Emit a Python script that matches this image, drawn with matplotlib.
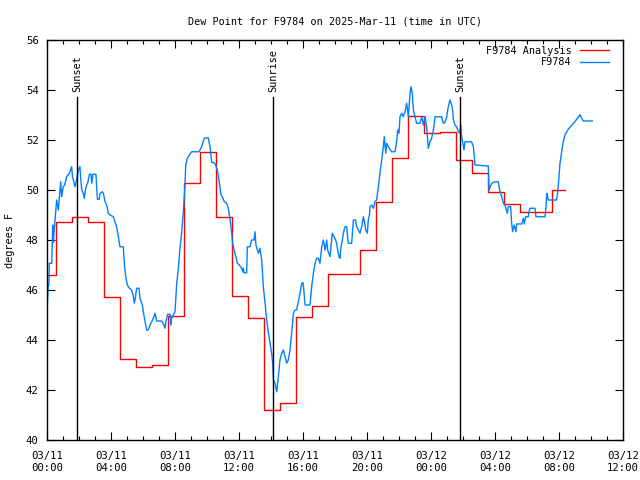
import matplotlib
matplotlib.use("Agg")
import matplotlib.pyplot as plt
from matplotlib.ticker import MultipleLocator

# Analysis (hourly, drawn as steps): change times (hours since 03/11 00:00) and values
red_t = [0, 0.55, 1.55, 2.55, 3.55, 4.55, 5.55, 6.55, 7.55, 8.55, 9.55, 10.55, 11.55,
         12.55, 13.55, 14.55, 15.55, 16.55, 17.55, 19.55, 20.55, 21.55, 22.55, 23.55,
         24.55, 25.55, 26.55, 27.55, 28.55, 29.55, 31.55, 32.35]
red_v = [46.6, 48.7, 48.9, 48.7, 45.7, 43.25, 42.9, 43.0, 44.95, 50.3, 51.5, 48.9, 45.76,
         44.88, 41.2, 41.47, 44.9, 45.35, 46.64, 47.6, 49.53, 51.3, 52.96, 52.27,
         52.3, 51.19, 50.67, 49.9, 49.44, 49.13, 50.0, 50.0]

# Observations
blue_t = [0.02, 0.08, 0.12, 0.146, 0.3, 0.354, 0.4, 0.45, 0.5, 0.604, 0.708, 0.854, 0.917,
          1.02, 1.1, 1.23, 1.40, 1.54, 1.6, 1.65, 1.75, 1.85, 1.96, 2.06, 2.1, 2.17, 2.25,
          2.33, 2.4, 2.48, 2.55, 2.65, 2.75, 2.8, 2.87, 3.06, 3.1, 3.15, 3.27, 3.31, 3.46,
          3.52, 3.63, 3.73, 3.83, 3.94, 4.15, 4.25, 4.35, 4.46, 4.56, 4.77, 4.83, 4.92,
          5.02, 5.15, 5.29, 5.40, 5.46, 5.52, 5.60, 5.75, 5.81, 5.96, 6.02, 6.13, 6.23,
          6.33, 6.44, 6.54, 6.65, 6.75, 6.85, 7.17, 7.31, 7.375, 7.44, 7.54, 7.69, 7.73,
          7.79, 8.0, 8.1, 8.21, 8.31, 8.42, 8.52, 8.625, 8.67, 8.77, 8.9, 9.04, 9.5, 9.67,
          9.83, 10.08, 10.19, 10.29, 10.44, 10.54, 10.67, 10.75, 10.875, 10.96, 11.08,
          11.23, 11.33, 11.45, 11.54, 11.6, 11.75, 11.9, 12.02, 12.17, 12.23, 12.27, 12.31,
          12.48, 12.52, 12.69, 12.79, 12.94, 13.0, 13.06, 13.21, 13.31, 13.42, 13.52,
          13.63, 13.73, 13.84, 13.94, 14.04, 14.11, 14.15, 14.25, 14.36, 14.46, 14.56,
          14.67, 14.77, 14.88, 14.98, 15.08, 15.19, 15.29, 15.4, 15.5, 15.6, 15.71, 15.81,
          15.92, 16.0, 16.06, 16.13, 16.44, 16.54, 16.65, 16.75, 16.86, 16.96, 17.06,
          17.17, 17.27, 17.38, 17.48, 17.54, 17.69, 17.75, 17.83, 17.94, 18.04, 18.1,
          18.17, 18.25, 18.31, 18.375, 18.46, 18.52, 18.625, 18.73, 18.83, 19.04, 19.15,
          19.29, 19.35, 19.46, 19.56, 19.67, 19.77, 19.85, 19.92, 20.02, 20.08, 20.15,
          20.19, 20.29, 20.4, 20.5, 20.6, 20.71, 20.81, 20.92, 21.02, 21.08, 21.17, 21.23,
          21.33, 21.54, 21.75, 21.85, 21.92, 22.0, 22.06, 22.17, 22.27, 22.375, 22.48,
          22.58, 22.69, 22.75, 22.83, 22.9, 23.0, 23.1, 23.31, 23.42, 23.52, 23.625,
          23.73, 23.83, 23.94, 24.04, 24.15, 24.25, 24.67, 24.77, 24.87, 24.98, 25.08,
          25.19, 25.29, 25.35, 25.4, 25.5, 25.6, 25.71, 25.81, 25.85, 25.9, 26.02, 26.06,
          26.125, 26.54, 26.65, 26.75, 27.58, 27.625, 27.79, 28.0, 28.21, 28.31, 28.42,
          28.52, 28.625, 28.77, 28.83, 28.98, 29.04, 29.1, 29.19, 29.31, 29.35, 29.67,
          29.77, 29.83, 29.92, 30.08, 30.125, 30.19, 30.5, 30.56, 31.125, 31.19, 31.23,
          31.29, 31.33, 31.85, 31.92, 32.0, 32.06, 32.125, 32.21, 32.29, 32.375, 32.48,
          32.58, 32.69, 32.79, 32.9, 33.0, 33.1, 33.21, 33.31, 33.42, 33.52, 34.08]
blue_v = [45.4, 46.2, 46.2, 47.07, 47.07, 48.6, 47.9, 48.4, 48.8, 49.6, 49.2, 50.33, 49.73,
          50.13, 50.2, 50.53, 50.67, 50.93, 50.5, 50.4, 50.13, 50.4, 50.8, 50.93, 50.53,
          50.0, 49.9, 49.67, 50.0, 50.2, 50.3, 50.63, 50.63, 50.27, 50.63, 50.63, 50.13,
          49.63, 49.63, 49.87, 49.93, 49.87, 49.53, 49.4, 49.07, 49.0, 48.93, 48.73, 48.53,
          48.13, 47.73, 47.73, 47.07, 46.53, 46.2, 46.07, 46.0, 45.73, 45.47, 45.67, 46.07,
          46.07, 45.67, 45.4, 45.13, 44.73, 44.4, 44.4, 44.6, 44.73, 44.87, 45.07, 44.76,
          44.76, 44.6, 44.47, 44.76, 45.03, 45.03, 44.6, 44.87, 45.13, 46.2, 46.87, 47.67,
          48.33, 49.13, 50.2, 51.0, 51.27, 51.4, 51.53, 51.53, 51.73, 52.07, 52.09, 51.73,
          51.1, 51.1, 51.0, 50.73, 50.4, 49.8, 49.73, 49.53, 49.47, 49.27, 48.8, 48.3,
          47.87, 47.47, 47.07, 47.0, 46.87, 46.73, 46.87, 46.69, 46.69, 47.73, 47.73, 48.0,
          48.0, 48.33, 47.8, 47.47, 47.67, 47.2, 46.13, 45.47, 44.8, 44.27, 43.87, 43.47,
          43.07, 42.4, 42.27, 41.93, 42.53, 43.2, 43.47, 43.6, 43.33, 43.07, 43.2, 43.6,
          44.27, 45.07, 45.2, 45.2, 45.53, 45.87, 46.27, 46.3, 45.93, 45.4, 45.4, 46.13,
          46.67, 47.07, 47.27, 47.27, 47.07, 47.73, 48.0, 47.6, 48.0, 47.6, 47.33, 47.73,
          48.27, 48.13, 48.0, 47.87, 47.6, 47.33, 47.27, 47.73, 48.0, 48.27, 48.53, 48.53,
          47.87, 47.87, 48.8, 48.8, 48.53, 48.4, 48.27, 48.53, 48.93, 48.7, 48.4, 48.27,
          48.8, 49.0, 49.33, 49.4, 49.27, 49.53, 49.6, 50.13, 50.67, 51.2, 51.73, 52.13,
          51.47, 51.87, 51.73, 51.53, 51.53, 51.93, 52.4, 52.27, 52.93, 53.07, 52.93, 53.13,
          53.47, 52.93, 53.87, 54.13, 53.87, 53.2, 52.93, 52.67, 52.67, 52.93, 52.6, 52.93,
          52.53, 51.67, 51.93, 52.07, 52.4, 52.93, 52.93, 52.67, 52.7, 52.93, 53.33, 53.6,
          53.4, 53.2, 52.8, 52.6, 52.53, 52.33, 52.27, 52.6, 52.2, 51.73, 51.6, 51.93,
          51.93, 51.73, 51.0, 50.96, 50.0, 50.27, 50.33, 50.33, 49.93, 49.73, 49.47, 49.4,
          49.07, 49.33, 49.33, 48.67, 48.33, 48.6, 48.33, 48.64, 48.64, 48.87, 48.64, 48.93,
          48.93, 49.13, 49.27, 49.27, 48.93, 48.93, 49.33, 49.87, 49.73, 49.6, 49.6, 49.93,
          50.53, 51.07, 51.33, 51.73, 52.0, 52.2, 52.33, 52.43, 52.51, 52.59, 52.67, 52.73,
          52.83, 52.91, 53.01, 52.87, 52.76, 52.76]

events = ["Sunset", "Sunrise", "Sunset"]
event_t = [1.875, 14.125, 25.8]

xtick_pos = [0, 4, 8, 12, 16, 20, 24, 28, 32, 36]
xtick_labels = ["03/11\n00:00", "03/11\n04:00", "03/11\n08:00", "03/11\n12:00",
                "03/11\n16:00", "03/11\n20:00", "03/12\n00:00", "03/12\n04:00",
                "03/12\n08:00", "03/12\n12:00"]

FONT = "DejaVu Sans Mono"
plt.rcParams["font.family"] = FONT
plt.rcParams["font.size"] = 7.6

fig = plt.figure(figsize=(6.4, 4.8), dpi=100)
ax = fig.add_axes([47/640, 40/480, 576/640, 400/480])

ax.plot(red_t, red_v, color="#ff0000", lw=1.0, drawstyle="steps-post", label="F9784 Analysis")
ax.plot(blue_t, blue_v, color="#0080ff", lw=1.0, label="F9784")

ax.set_xlim(0, 36)
ax.set_ylim(40, 56)
ax.set_xticks(xtick_pos)
ax.set_xticklabels(xtick_labels, fontsize=7.7)
ax.xaxis.set_minor_locator(MultipleLocator(1))
ax.set_yticks(range(40, 57, 2))
ax.tick_params(axis="y", labelsize=7.7)
ax.tick_params(which="both", direction="in", top=True, right=True, width=0.8)
ax.tick_params(which="major", length=6)
ax.tick_params(which="minor", length=3)
ax.tick_params(axis="x", pad=8)
ax.tick_params(axis="y", pad=6)
for s in ax.spines.values():
    s.set_linewidth(1.0)

for name, t in zip(events, event_t):
    ax.axvline(t, ymin=0, ymax=(53.72 - 40) / 16, color="black", lw=1.0)
    ax.text(t, 53.9, name, rotation=90, ha="center", va="bottom", fontsize=7.4)

ax.set_title("Dew Point for F9784 on 2025-Mar-11 (time in UTC)", fontsize=7.3, pad=11)
fig.text(10/640, 0.5, "degrees F", rotation=90, ha="center", va="center", fontsize=7.4)

leg = ax.legend(loc="upper right", frameon=False, markerfirst=False, handlelength=2.9,
                fontsize=7.3, borderaxespad=0.15, labelspacing=0.15, handletextpad=0.8,
                borderpad=0.2, bbox_to_anchor=(0.982, 0.995))

fig.savefig("out.png", dpi=100)
